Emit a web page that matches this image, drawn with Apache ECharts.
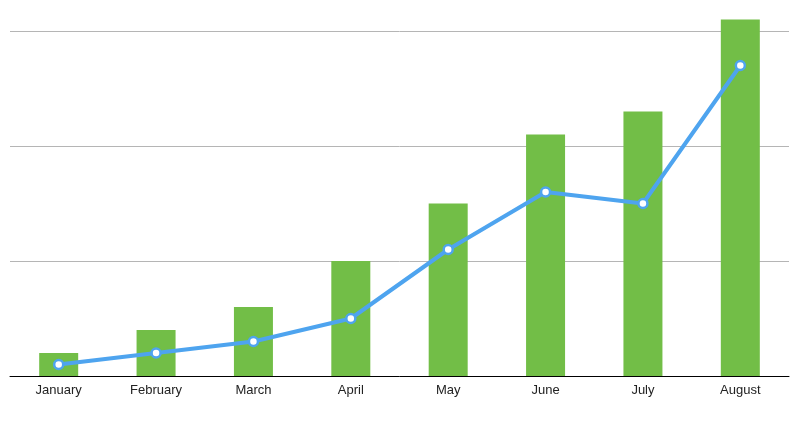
<!DOCTYPE html>
<html>
<head>
<meta charset="utf-8">
<script src="https://cdn.jsdelivr.net/npm/echarts@6/dist/echarts.min.js"></script>
<style>html,body{margin:0;background:#fff}#chart{width:800px;height:423px}</style>
</head>
<body>
<div id="chart"></div>
<script>
var months = ['January', 'February', 'March', 'April', 'May', 'June', 'July', 'August'];
var barValues = [2, 4, 6, 10, 15, 21, 23, 31];
var lineValues = [1, 2, 3, 5, 11, 16, 15, 27];

var chart = echarts.init(document.getElementById('chart'));
chart.setOption({
    animation: false,
    grid: { left: 10, right: 11, top: 31, bottom: 47 },
    xAxis: {
        type: 'category',
        data: months,
        axisTick: { show: false },
        axisLine: { lineStyle: { color: '#000', width: 1 } },
        axisLabel: { color: '#222', fontSize: 13, fontFamily: 'Helvetica, Arial, sans-serif', margin: 8 }
    },
    yAxis: {
        type: 'value',
        min: 0, max: 30, interval: 10,
        axisLabel: { show: false },
        splitLine: { lineStyle: { color: '#b5b5b5' } }
    },
    series: [
        {
            type: 'bar',
            data: barValues,
            barWidth: 39,
            clip: false,
            itemStyle: { color: '#72be47' }
        },
        {
            type: 'line',
            data: lineValues,
            symbol: 'circle',
            symbolSize: 9,
            lineStyle: { color: '#4ea4ef', width: 4 },
            itemStyle: { color: '#fff', borderColor: '#4ea4ef', borderWidth: 2.5 }
        }
    ]
});
</script>
</body>
</html>
